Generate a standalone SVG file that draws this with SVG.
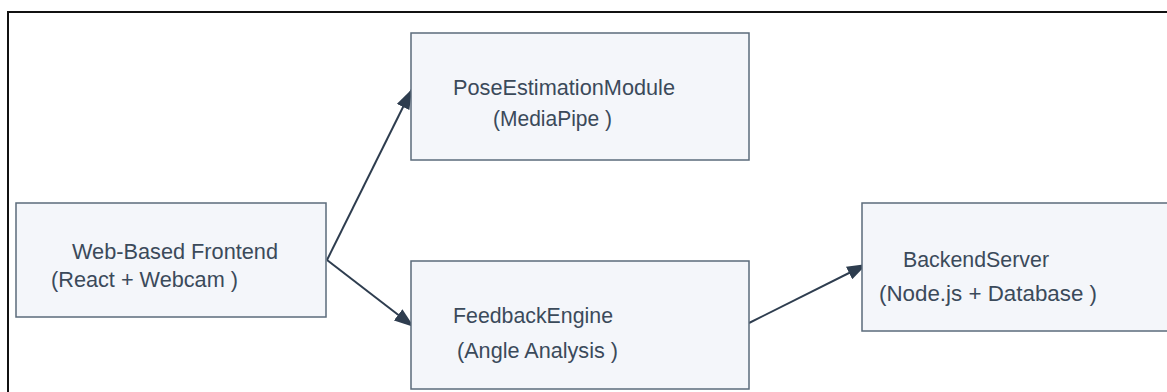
<svg xmlns="http://www.w3.org/2000/svg" width="1167" height="392" viewBox="0 0 1167 392">
<style>
.box{fill:#f4f6fa;stroke:#5b6b7b;stroke-width:1.5}
.t{font-family:"Liberation Sans",Arial,sans-serif;font-size:22px;fill:#3b4a5a}
.c{stroke:#2e3d4f;stroke-width:2;fill:none}
</style>
<defs>
<marker id="ah" viewBox="0 0 20 14" refX="20" refY="7" markerWidth="20" markerHeight="14" markerUnits="userSpaceOnUse" orient="auto">
<path d="M0,0 L20,7 L0,14 z" fill="#2e3d4f"/>
</marker>
</defs>
<rect width="1167" height="392" fill="#ffffff"/>
<rect x="8" y="12" width="1180" height="400" fill="none" stroke="#111" stroke-width="2"/>
<g id="connectors">
<line class="c" x1="327" y1="260" x2="412" y2="89" marker-end="url(#ah)"/>
<line class="c" x1="327" y1="260" x2="414" y2="327" marker-end="url(#ah)"/>
<line class="c" x1="749" y1="323" x2="867" y2="264" marker-end="url(#ah)"/>
</g>
<g id="frontend">
<rect class="box" x="16" y="203" width="310" height="114"/>
<text class="t" x="72" y="259" textLength="206" lengthAdjust="spacingAndGlyphs">Web-Based  Frontend</text>
<text class="t" x="51" y="287" textLength="187" lengthAdjust="spacingAndGlyphs">(React + Webcam )</text>
</g>
<g id="pose">
<rect class="box" x="411" y="33" width="338" height="127"/>
<text class="t" x="453" y="95" textLength="222" lengthAdjust="spacingAndGlyphs">PoseEstimationModule</text>
<text class="t" x="493" y="126" textLength="119" lengthAdjust="spacingAndGlyphs">(MediaPipe )</text>
</g>
<g id="feedback">
<rect class="box" x="411" y="261" width="338" height="128"/>
<text class="t" x="453" y="323" textLength="160" lengthAdjust="spacingAndGlyphs">FeedbackEngine</text>
<text class="t" x="457" y="358" textLength="161" lengthAdjust="spacingAndGlyphs">(Angle Analysis )</text>
</g>
<g id="backend">
<rect class="box" x="862" y="203" width="320" height="128"/>
<text class="t" x="903" y="267" textLength="146" lengthAdjust="spacingAndGlyphs">BackendServer</text>
<text class="t" x="879" y="301" textLength="218" lengthAdjust="spacingAndGlyphs">(Node.js  + Database )</text>
</g>
</svg>
